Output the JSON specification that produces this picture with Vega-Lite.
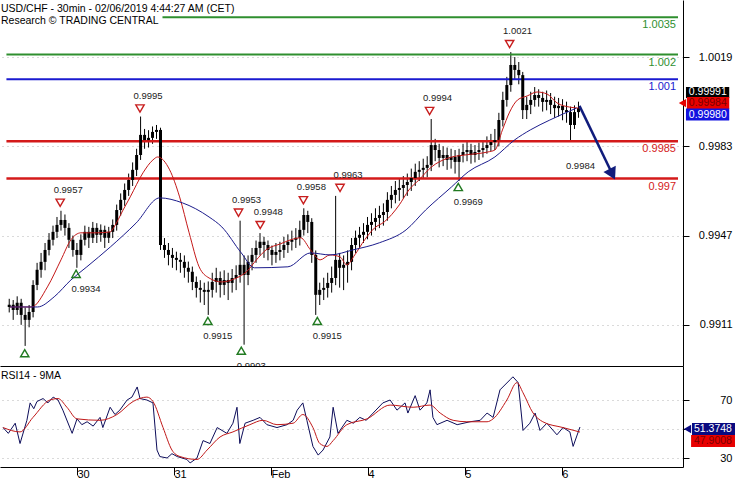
{
  "$schema": "https://vega.github.io/schema/vega-lite/v6.json",
  "padding": 0,
  "spacing": 0,
  "background": "white",
  "config": {
    "view": {"stroke": null},
    "font": "Liberation Sans",
    "axis": {"labelFont": "Liberation Sans", "labelColor": "black", "labelFontSize": 11, "domainColor": "black", "tickColor": "black", "domainWidth": 1, "tickWidth": 1}
  },
  "datasets": {
    "levels": [
      {"kind": "r2", "v": 1.0035, "label": "1.0035"},
      {"kind": "r1", "v": 1.002, "label": "1.002"},
      {"kind": "pivot", "v": 1.001, "label": "1.001"},
      {"kind": "s1", "v": 0.9985, "label": "0.9985"},
      {"kind": "s2", "v": 0.997, "label": "0.997"}
    ],
    "bars": [
      {"t":6,"o":0.99182,"h":0.99215,"l":0.9916,"c":0.99191},
      {"t":7,"o":0.99191,"h":0.9921,"l":0.9913,"c":0.9917},
      {"t":8,"o":0.9917,"h":0.99225,"l":0.9915,"c":0.99199},
      {"t":9,"o":0.99199,"h":0.99215,"l":0.9911,"c":0.9915},
      {"t":10,"o":0.9915,"h":0.9918,"l":0.99025,"c":0.9913},
      {"t":11,"o":0.9913,"h":0.9919,"l":0.991,"c":0.99162},
      {"t":12,"o":0.99162,"h":0.9929,"l":0.9914,"c":0.99271},
      {"t":13,"o":0.99271,"h":0.9936,"l":0.9925,"c":0.99332},
      {"t":14,"o":0.99332,"h":0.994,"l":0.993,"c":0.99364},
      {"t":15,"o":0.99364,"h":0.9944,"l":0.9933,"c":0.99412},
      {"t":16,"o":0.99412,"h":0.9948,"l":0.9939,"c":0.99453},
      {"t":17,"o":0.99453,"h":0.9951,"l":0.9943,"c":0.99485},
      {"t":18,"o":0.99485,"h":0.99545,"l":0.9946,"c":0.99513},
      {"t":19,"o":0.99513,"h":0.9957,"l":0.9949,"c":0.99533},
      {"t":20,"o":0.99533,"h":0.99555,"l":0.9947,"c":0.99501},
      {"t":21,"o":0.99501,"h":0.9952,"l":0.9942,"c":0.99453},
      {"t":22,"o":0.99453,"h":0.9947,"l":0.99385,"c":0.99412},
      {"t":23,"o":0.99412,"h":0.9944,"l":0.9934,"c":0.99392},
      {"t":24,"o":0.99392,"h":0.99475,"l":0.9937,"c":0.99453},
      {"t":25,"o":0.99453,"h":0.9951,"l":0.9943,"c":0.99485},
      {"t":26,"o":0.99485,"h":0.99505,"l":0.9942,"c":0.99461},
      {"t":27,"o":0.99461,"h":0.99525,"l":0.9944,"c":0.99501},
      {"t":28,"o":0.99501,"h":0.9952,"l":0.9944,"c":0.99473},
      {"t":29,"o":0.99473,"h":0.99515,"l":0.99445,"c":0.99493},
      {"t":30,"o":0.99493,"h":0.9951,"l":0.9942,"c":0.99461},
      {"t":31,"o":0.99461,"h":0.99505,"l":0.9944,"c":0.99485},
      {"t":32,"o":0.99485,"h":0.99535,"l":0.9946,"c":0.99513},
      {"t":33,"o":0.99513,"h":0.99595,"l":0.9949,"c":0.99573},
      {"t":34,"o":0.99573,"h":0.9964,"l":0.9955,"c":0.99614},
      {"t":35,"o":0.99614,"h":0.9968,"l":0.9959,"c":0.99654},
      {"t":36,"o":0.99654,"h":0.9972,"l":0.9963,"c":0.99694},
      {"t":37,"o":0.99694,"h":0.99765,"l":0.9967,"c":0.99735},
      {"t":38,"o":0.99735,"h":0.9982,"l":0.9971,"c":0.99795},
      {"t":39,"o":0.99795,"h":0.9995,"l":0.99775,"c":0.99876},
      {"t":40,"o":0.99876,"h":0.999,"l":0.9982,"c":0.99855},
      {"t":41,"o":0.99855,"h":0.99895,"l":0.99825,"c":0.99864},
      {"t":42,"o":0.99864,"h":0.9991,"l":0.9984,"c":0.99888},
      {"t":43,"o":0.99888,"h":0.99916,"l":0.9986,"c":0.99896},
      {"t":44,"o":0.99896,"h":0.99905,"l":0.99412,"c":0.99432},
      {"t":45,"o":0.99432,"h":0.9946,"l":0.9938,"c":0.99412},
      {"t":46,"o":0.99412,"h":0.9944,"l":0.9935,"c":0.99392},
      {"t":47,"o":0.99392,"h":0.9942,"l":0.9934,"c":0.9938},
      {"t":48,"o":0.9938,"h":0.99405,"l":0.9933,"c":0.99372},
      {"t":49,"o":0.99372,"h":0.994,"l":0.9932,"c":0.99364},
      {"t":50,"o":0.99364,"h":0.9939,"l":0.993,"c":0.9934},
      {"t":51,"o":0.9934,"h":0.99365,"l":0.9928,"c":0.99324},
      {"t":52,"o":0.99324,"h":0.99345,"l":0.9925,"c":0.99283},
      {"t":53,"o":0.99283,"h":0.99305,"l":0.9922,"c":0.99259},
      {"t":54,"o":0.99259,"h":0.9929,"l":0.992,"c":0.99251},
      {"t":55,"o":0.99251,"h":0.9928,"l":0.9919,"c":0.99243},
      {"t":56,"o":0.99243,"h":0.99285,"l":0.9915,"c":0.99251},
      {"t":57,"o":0.99251,"h":0.9932,"l":0.9922,"c":0.99283},
      {"t":58,"o":0.99283,"h":0.9934,"l":0.9924,"c":0.99299},
      {"t":59,"o":0.99299,"h":0.99325,"l":0.9922,"c":0.99271},
      {"t":60,"o":0.99271,"h":0.9933,"l":0.9923,"c":0.99291},
      {"t":61,"o":0.99291,"h":0.9932,"l":0.9921,"c":0.99279},
      {"t":62,"o":0.99279,"h":0.99335,"l":0.9924,"c":0.99299},
      {"t":63,"o":0.99299,"h":0.9935,"l":0.9925,"c":0.99311},
      {"t":64,"o":0.99311,"h":0.9953,"l":0.9928,"c":0.99352},
      {"t":65,"o":0.99352,"h":0.9939,"l":0.9903,"c":0.99311},
      {"t":66,"o":0.99311,"h":0.9939,"l":0.9927,"c":0.99364},
      {"t":67,"o":0.99364,"h":0.9942,"l":0.9933,"c":0.99392},
      {"t":68,"o":0.99392,"h":0.9945,"l":0.9936,"c":0.9942},
      {"t":69,"o":0.9942,"h":0.9948,"l":0.9939,"c":0.99445},
      {"t":70,"o":0.99445,"h":0.99465,"l":0.9938,"c":0.99432},
      {"t":71,"o":0.99432,"h":0.9945,"l":0.9937,"c":0.99412},
      {"t":72,"o":0.99412,"h":0.9943,"l":0.9935,"c":0.99392},
      {"t":73,"o":0.99392,"h":0.9944,"l":0.9936,"c":0.99404},
      {"t":74,"o":0.99404,"h":0.99445,"l":0.9937,"c":0.99412},
      {"t":75,"o":0.99412,"h":0.99465,"l":0.9938,"c":0.99432},
      {"t":76,"o":0.99432,"h":0.99475,"l":0.994,"c":0.99445},
      {"t":77,"o":0.99445,"h":0.9949,"l":0.9941,"c":0.99453},
      {"t":78,"o":0.99453,"h":0.995,"l":0.9942,"c":0.99461},
      {"t":79,"o":0.99461,"h":0.9953,"l":0.9943,"c":0.99493},
      {"t":80,"o":0.99493,"h":0.9958,"l":0.9947,"c":0.99553},
      {"t":81,"o":0.99553,"h":0.9957,"l":0.9948,"c":0.99525},
      {"t":82,"o":0.99525,"h":0.9954,"l":0.9936,"c":0.99392},
      {"t":83,"o":0.99392,"h":0.9941,"l":0.9915,"c":0.99231},
      {"t":84,"o":0.99231,"h":0.9928,"l":0.9919,"c":0.99251},
      {"t":85,"o":0.99251,"h":0.993,"l":0.9921,"c":0.99259},
      {"t":86,"o":0.99259,"h":0.9932,"l":0.9922,"c":0.99279},
      {"t":87,"o":0.99279,"h":0.99345,"l":0.9924,"c":0.99299},
      {"t":88,"o":0.99299,"h":0.9963,"l":0.9927,"c":0.99372},
      {"t":89,"o":0.99372,"h":0.994,"l":0.9926,"c":0.9934},
      {"t":90,"o":0.9934,"h":0.9939,"l":0.9925,"c":0.99352},
      {"t":91,"o":0.99352,"h":0.9941,"l":0.9928,"c":0.99364},
      {"t":92,"o":0.99364,"h":0.9946,"l":0.9933,"c":0.99432},
      {"t":93,"o":0.99432,"h":0.9949,"l":0.994,"c":0.99461},
      {"t":94,"o":0.99461,"h":0.99505,"l":0.9942,"c":0.99473},
      {"t":95,"o":0.99473,"h":0.9952,"l":0.9944,"c":0.99485},
      {"t":96,"o":0.99485,"h":0.99545,"l":0.99455,"c":0.99513},
      {"t":97,"o":0.99513,"h":0.9956,"l":0.9947,"c":0.99525},
      {"t":98,"o":0.99525,"h":0.9958,"l":0.9949,"c":0.99541},
      {"t":99,"o":0.99541,"h":0.9959,"l":0.995,"c":0.99553},
      {"t":100,"o":0.99553,"h":0.996,"l":0.9951,"c":0.99565},
      {"t":101,"o":0.99565,"h":0.99645,"l":0.9953,"c":0.99614},
      {"t":102,"o":0.99614,"h":0.9967,"l":0.9958,"c":0.99634},
      {"t":103,"o":0.99634,"h":0.9969,"l":0.996,"c":0.99654},
      {"t":104,"o":0.99654,"h":0.997,"l":0.9961,"c":0.99662},
      {"t":105,"o":0.99662,"h":0.9971,"l":0.9962,"c":0.99674},
      {"t":106,"o":0.99674,"h":0.9972,"l":0.9963,"c":0.99686},
      {"t":107,"o":0.99686,"h":0.9974,"l":0.9965,"c":0.99702},
      {"t":108,"o":0.99702,"h":0.9976,"l":0.9967,"c":0.99727},
      {"t":109,"o":0.99727,"h":0.9977,"l":0.9969,"c":0.99735},
      {"t":110,"o":0.99735,"h":0.9978,"l":0.997,"c":0.99743},
      {"t":111,"o":0.99743,"h":0.9979,"l":0.99705,"c":0.99755},
      {"t":112,"o":0.99755,"h":0.9994,"l":0.9973,"c":0.99835},
      {"t":113,"o":0.99835,"h":0.9986,"l":0.9977,"c":0.99815},
      {"t":114,"o":0.99815,"h":0.9984,"l":0.99745,"c":0.99783},
      {"t":115,"o":0.99783,"h":0.9983,"l":0.9975,"c":0.99795},
      {"t":116,"o":0.99795,"h":0.99825,"l":0.99735,"c":0.99775},
      {"t":117,"o":0.99775,"h":0.9982,"l":0.9974,"c":0.99787},
      {"t":118,"o":0.99787,"h":0.99815,"l":0.9972,"c":0.99767},
      {"t":119,"o":0.99767,"h":0.9982,"l":0.9969,"c":0.99795},
      {"t":120,"o":0.99795,"h":0.9984,"l":0.99765,"c":0.99807},
      {"t":121,"o":0.99807,"h":0.9985,"l":0.9977,"c":0.99815},
      {"t":122,"o":0.99815,"h":0.9984,"l":0.9976,"c":0.99795},
      {"t":123,"o":0.99795,"h":0.99835,"l":0.99765,"c":0.99807},
      {"t":124,"o":0.99807,"h":0.99845,"l":0.99775,"c":0.99815},
      {"t":125,"o":0.99815,"h":0.99855,"l":0.99785,"c":0.99823},
      {"t":126,"o":0.99823,"h":0.9987,"l":0.998,"c":0.99835},
      {"t":127,"o":0.99835,"h":0.9988,"l":0.9981,"c":0.99847},
      {"t":128,"o":0.99847,"h":0.999,"l":0.99815,"c":0.99855},
      {"t":129,"o":0.99855,"h":0.99965,"l":0.9983,"c":0.99936},
      {"t":130,"o":0.99936,"h":1.0005,"l":0.9991,"c":1.00017},
      {"t":131,"o":1.00017,"h":1.0011,"l":0.9999,"c":1.00077},
      {"t":132,"o":1.00077,"h":1.0021,"l":1.0005,"c":1.00158},
      {"t":133,"o":1.00158,"h":1.0019,"l":1.001,"c":1.00138},
      {"t":134,"o":1.00138,"h":1.0017,"l":1.0008,"c":1.00117},
      {"t":135,"o":1.00117,"h":1.0013,"l":0.9994,"c":0.99976},
      {"t":136,"o":0.99976,"h":1.0003,"l":0.9994,"c":0.99997},
      {"t":137,"o":0.99997,"h":1.0005,"l":0.9996,"c":1.00017},
      {"t":138,"o":1.00017,"h":1.00069,"l":0.9999,"c":1.00037},
      {"t":139,"o":1.00037,"h":1.0006,"l":0.9999,"c":1.00025},
      {"t":140,"o":1.00025,"h":1.0005,"l":0.9997,"c":1.00009},
      {"t":141,"o":1.00009,"h":1.00055,"l":0.99975,"c":1.00017},
      {"t":142,"o":1.00017,"h":1.00045,"l":0.9996,"c":0.99997},
      {"t":143,"o":0.99997,"h":1.0003,"l":0.99945,"c":0.99984},
      {"t":144,"o":0.99984,"h":1.00025,"l":0.9995,"c":0.99993},
      {"t":145,"o":0.99993,"h":1.0002,"l":0.99935,"c":0.99976},
      {"t":146,"o":0.99976,"h":1.0001,"l":0.99925,"c":0.99968},
      {"t":147,"o":0.99968,"h":0.9999,"l":0.99855,"c":0.99916},
      {"t":148,"o":0.99916,"h":0.99995,"l":0.999,"c":0.99968},
      {"t":149,"o":0.99968,"h":1.0001,"l":0.99945,"c":0.99984}
    ],
    "ma": [
      {"s":"fast","t":6.2,"v":0.99182},{"s":"fast","t":11.6,"v":0.99182},{"s":"fast","t":15.6,"v":0.99263},{"s":"fast","t":19.0,"v":0.99372},{"s":"fast","t":21.5,"v":0.99453},{"s":"fast","t":24,"v":0.99481},{"s":"fast","t":28,"v":0.99481},{"s":"fast","t":31.4,"v":0.99485},{"s":"fast","t":32.2,"v":0.99501},{"s":"fast","t":34.6,"v":0.99573},{"s":"fast","t":36.4,"v":0.99626},{"s":"fast","t":39.6,"v":0.99723},{"s":"fast","t":42.1,"v":0.99775},{"s":"fast","t":43.3,"v":0.99787},{"s":"fast","t":46.3,"v":0.99735},{"s":"fast","t":48.8,"v":0.99626},{"s":"fast","t":51.2,"v":0.99481},{"s":"fast","t":53.7,"v":0.99344},{"s":"fast","t":56.2,"v":0.99299},{"s":"fast","t":59.4,"v":0.99283},{"s":"fast","t":63.1,"v":0.99299},{"s":"fast","t":65.6,"v":0.99324},{"s":"fast","t":68.1,"v":0.99372},{"s":"fast","t":70.5,"v":0.99412},{"s":"fast","t":74.2,"v":0.99437},{"s":"fast","t":76.7,"v":0.99453},{"s":"fast","t":79.2,"v":0.99461},{"s":"fast","t":81.7,"v":0.99412},{"s":"fast","t":84.1,"v":0.99372},{"s":"fast","t":86.6,"v":0.99392},{"s":"fast","t":89.1,"v":0.99384},{"s":"fast","t":90.8,"v":0.99352},{"s":"fast","t":92.8,"v":0.99392},{"s":"fast","t":95.3,"v":0.99453},{"s":"fast","t":97.8,"v":0.99501},{"s":"fast","t":100.2,"v":0.99525},{"s":"fast","t":104,"v":0.99594},{"s":"fast","t":106.4,"v":0.99654},{"s":"fast","t":108.9,"v":0.99694},{"s":"fast","t":112.1,"v":0.99747},{"s":"fast","t":116.3,"v":0.99783},{"s":"fast","t":120.5,"v":0.99795},{"s":"fast","t":126.2,"v":0.99807},{"s":"fast","t":128,"v":0.99815},{"s":"fast","t":129.9,"v":0.99896},{"s":"fast","t":131.7,"v":0.99968},{"s":"fast","t":133.7,"v":1.00017},{"s":"fast","t":136.1,"v":1.00033},{"s":"fast","t":138.6,"v":1.00049},{"s":"fast","t":141.1,"v":1.00041},{"s":"fast","t":143.6,"v":1.00005},{"s":"fast","t":146.8,"v":0.99988},{"s":"fast","t":149,"v":0.99984},
      {"s":"slow","t":6.2,"v":0.99182},{"s":"slow","t":13.1,"v":0.99182},{"s":"slow","t":17.3,"v":0.99223},{"s":"slow","t":21.5,"v":0.99291},{"s":"slow","t":25.5,"v":0.99344},{"s":"slow","t":31.4,"v":0.99424},{"s":"slow","t":37.9,"v":0.99521},{"s":"slow","t":43.8,"v":0.99622},{"s":"slow","t":49.5,"v":0.99602},{"s":"slow","t":56.2,"v":0.99545},{"s":"slow","t":59.4,"v":0.99505},{"s":"slow","t":64.3,"v":0.994},{"s":"slow","t":67.6,"v":0.9934},{"s":"slow","t":76,"v":0.99344},{"s":"slow","t":81.7,"v":0.994},{"s":"slow","t":86.6,"v":0.99392},{"s":"slow","t":92.3,"v":0.99412},{"s":"slow","t":99,"v":0.99441},{"s":"slow","t":105.7,"v":0.99493},{"s":"slow","t":110.6,"v":0.99573},{"s":"slow","t":117.1,"v":0.99666},{"s":"slow","t":121.3,"v":0.99727},{"s":"slow","t":128,"v":0.99787},{"s":"slow","t":132.9,"v":0.99855},{"s":"slow","t":136.9,"v":0.99896},{"s":"slow","t":141.8,"v":0.99936},{"s":"slow","t":148.5,"v":0.99984}
    ],
    "marks": [
      {"type":"high","t":18.8,"v":0.9957,"label":"0.9957"},
      {"type":"high","t":38.85,"v":0.9995,"label":"0.9995"},
      {"type":"high","t":63.6,"v":0.9953,"label":"0.9953"},
      {"type":"high","t":69.05,"v":0.9948,"label":"0.9948"},
      {"type":"high","t":79.9,"v":0.9958,"label":"0.9958"},
      {"type":"high","t":89.1,"v":0.9963,"label":"0.9963"},
      {"type":"high","t":111.6,"v":0.9994,"label":"0.9994"},
      {"type":"high","t":131.7,"v":1.0021,"label":"1.0021"},
      {"type":"low","t":9.9,"v":0.9902,"label":""},
      {"type":"low","t":22.8,"v":0.9934,"label":"0.9934"},
      {"type":"low","t":55.9,"v":0.9915,"label":"0.9915"},
      {"type":"low","t":64.3,"v":0.9903,"label":"0.9903"},
      {"type":"low","t":83.4,"v":0.9915,"label":"0.9915"},
      {"type":"low","t":118.8,"v":0.9969,"label":"0.9969"}
    ],
    "annot": [{"t":149.5,"v":0.99751,"label":"0.9984"}],
    "arrow": [{"t":149.25,"v":0.99993},{"t":157.5,"v":0.99718}],
    "pbox": [
      {"kind":"bid","v":0.99991,"label":"0.99991"},
      {"kind":"last","v":0.99984,"label":"0.99984"},
      {"kind":"ma","v":0.9998,"label":"0.99980"}
    ],
    "rsi": [
      {"s":"rsi","t":5.7,"v":51},{"s":"rsi","t":7,"v":47},{"s":"rsi","t":8.7,"v":54},{"s":"rsi","t":9.9,"v":40},{"s":"rsi","t":11.6,"v":56},{"s":"rsi","t":12.4,"v":68},{"s":"rsi","t":13.3,"v":64},{"s":"rsi","t":14.1,"v":69},{"s":"rsi","t":15.6,"v":71},{"s":"rsi","t":16.8,"v":68},{"s":"rsi","t":18.1,"v":72},{"s":"rsi","t":19.3,"v":70},{"s":"rsi","t":20.5,"v":63},{"s":"rsi","t":22.8,"v":47},{"s":"rsi","t":24,"v":57},{"s":"rsi","t":25.2,"v":53},{"s":"rsi","t":26.5,"v":55},{"s":"rsi","t":28,"v":52},{"s":"rsi","t":29.7,"v":58},{"s":"rsi","t":30.4,"v":51},{"s":"rsi","t":32.2,"v":65},{"s":"rsi","t":33.4,"v":60},{"s":"rsi","t":34.6,"v":63},{"s":"rsi","t":36.4,"v":70},{"s":"rsi","t":37.6,"v":72},{"s":"rsi","t":38.9,"v":79},{"s":"rsi","t":39.6,"v":71},{"s":"rsi","t":41.3,"v":70},{"s":"rsi","t":42.8,"v":68},{"s":"rsi","t":43.8,"v":35.5},{"s":"rsi","t":44.5,"v":31},{"s":"rsi","t":46.3,"v":30},{"s":"rsi","t":47.5,"v":33},{"s":"rsi","t":48.8,"v":31},{"s":"rsi","t":51.2,"v":29},{"s":"rsi","t":52,"v":26.6},{"s":"rsi","t":53.7,"v":30},{"s":"rsi","t":55.2,"v":42},{"s":"rsi","t":56.9,"v":40},{"s":"rsi","t":58.7,"v":51},{"s":"rsi","t":61.1,"v":47},{"s":"rsi","t":62.6,"v":54},{"s":"rsi","t":63.6,"v":65},{"s":"rsi","t":64.3,"v":40},{"s":"rsi","t":65.6,"v":54},{"s":"rsi","t":67.6,"v":56},{"s":"rsi","t":69.3,"v":58},{"s":"rsi","t":71,"v":53},{"s":"rsi","t":73.5,"v":51},{"s":"rsi","t":76,"v":53},{"s":"rsi","t":77.5,"v":56},{"s":"rsi","t":78.5,"v":63},{"s":"rsi","t":79.9,"v":68},{"s":"rsi","t":80.9,"v":56},{"s":"rsi","t":82.4,"v":38},{"s":"rsi","t":83.7,"v":32},{"s":"rsi","t":84.9,"v":35.5},{"s":"rsi","t":86.6,"v":44.5},{"s":"rsi","t":87.4,"v":65},{"s":"rsi","t":88.6,"v":47},{"s":"rsi","t":90.8,"v":56},{"s":"rsi","t":92.4,"v":54},{"s":"rsi","t":94,"v":58},{"s":"rsi","t":95.6,"v":56},{"s":"rsi","t":97.3,"v":61},{"s":"rsi","t":99.7,"v":68},{"s":"rsi","t":101.5,"v":70},{"s":"rsi","t":103.2,"v":63},{"s":"rsi","t":105.2,"v":68},{"s":"rsi","t":105.9,"v":61},{"s":"rsi","t":107.7,"v":73},{"s":"rsi","t":108.9,"v":63},{"s":"rsi","t":110.6,"v":68},{"s":"rsi","t":111.4,"v":77},{"s":"rsi","t":112.1,"v":58},{"s":"rsi","t":113.1,"v":53},{"s":"rsi","t":115.6,"v":56},{"s":"rsi","t":118.1,"v":53},{"s":"rsi","t":121.3,"v":55},{"s":"rsi","t":123.8,"v":56},{"s":"rsi","t":125.5,"v":61},{"s":"rsi","t":127,"v":58},{"s":"rsi","t":128.7,"v":77},{"s":"rsi","t":131.2,"v":84},{"s":"rsi","t":131.9,"v":86},{"s":"rsi","t":133.2,"v":82},{"s":"rsi","t":134.4,"v":49},{"s":"rsi","t":136.1,"v":54},{"s":"rsi","t":137.4,"v":61},{"s":"rsi","t":138.6,"v":49},{"s":"rsi","t":140.3,"v":54},{"s":"rsi","t":142.8,"v":46},{"s":"rsi","t":144.3,"v":51},{"s":"rsi","t":146,"v":48},{"s":"rsi","t":146.8,"v":38},{"s":"rsi","t":148.5,"v":51.3748},
      {"s":"ma","t":5.7,"v":51},{"s":"ma","t":9.9,"v":48},{"s":"ma","t":13.1,"v":58},{"s":"ma","t":17.3,"v":70},{"s":"ma","t":19.3,"v":71},{"s":"ma","t":21.5,"v":65},{"s":"ma","t":24,"v":57},{"s":"ma","t":29.7,"v":56},{"s":"ma","t":33.9,"v":60},{"s":"ma","t":37.9,"v":69},{"s":"ma","t":41.3,"v":72},{"s":"ma","t":42.8,"v":69},{"s":"ma","t":45.3,"v":51},{"s":"ma","t":47.5,"v":35.5},{"s":"ma","t":49.5,"v":31},{"s":"ma","t":53.7,"v":29},{"s":"ma","t":56.2,"v":35.5},{"s":"ma","t":59.4,"v":44.5},{"s":"ma","t":62.6,"v":48},{"s":"ma","t":66.8,"v":53},{"s":"ma","t":70,"v":56},{"s":"ma","t":73.5,"v":53},{"s":"ma","t":77.5,"v":54},{"s":"ma","t":79.9,"v":60},{"s":"ma","t":82.4,"v":51},{"s":"ma","t":84.1,"v":40},{"s":"ma","t":85.9,"v":38},{"s":"ma","t":87.4,"v":42},{"s":"ma","t":90.8,"v":53},{"s":"ma","t":95.8,"v":57},{"s":"ma","t":101.5,"v":66.5},{"s":"ma","t":107.2,"v":65},{"s":"ma","t":111.4,"v":66.5},{"s":"ma","t":113.9,"v":61},{"s":"ma","t":117.1,"v":56},{"s":"ma","t":120.5,"v":55},{"s":"ma","t":125.5,"v":55},{"s":"ma","t":127,"v":57},{"s":"ma","t":130.4,"v":70},{"s":"ma","t":132.9,"v":82},{"s":"ma","t":134.4,"v":75},{"s":"ma","t":136.9,"v":61},{"s":"ma","t":139.3,"v":55},{"s":"ma","t":144.3,"v":51},{"s":"ma","t":148.5,"v":47.9008}
    ],
    "rbox": [
      {"kind":"rsi","v":51.3748,"label":"51.3748"},
      {"kind":"ma","v":47.9008,"label":"47.9008"}
    ]
  },
  "vconcat": [
    {
      "width": 683,
      "height": 366,
      "title": {"text": "USD/CHF - 30min - 02/06/2019 4:44:27 AM (CET)", "subtitle": "Research © TRADING CENTRAL", "anchor": "start", "frame": "group", "orient": "top", "offset": -26, "dx": 1, "font": "Liberation Sans", "fontSize": 10.5, "fontWeight": "normal", "color": "black", "subtitleFont": "Liberation Sans", "subtitleFontSize": 10.5, "subtitleColor": "black", "subtitlePadding": 1},
      "layer": [
        {
          "data": {"name": "bars"},
          "mark": {"type": "rule", "color": "black", "strokeWidth": 1},
          "encoding": {
            "x": {"field": "t", "type": "quantitative", "scale": {"domain": [4.94, 174], "nice": false, "zero": false}, "axis": {"labels": false, "ticks": false, "grid": false, "domain": true, "title": null}},
            "y": {"field": "l", "type": "quantitative", "scale": {"domain": [0.98944, 1.0042], "nice": false, "zero": false}, "axis": {"orient": "right", "values": [0.9911, 0.9947, 0.9983, 1.0019], "format": ".4f", "title": null, "grid": true, "gridDash": [1, 4], "gridColor": "#b4b4b4", "tickSize": 6, "labelAlign": "right", "labelPadding": 43}},
            "y2": {"field": "h"}
          }
        },
        {
          "data": {"name": "levels"},
          "transform": [{"filter": "datum.kind != 'r2'"}],
          "mark": {"type": "rule"},
          "encoding": {
            "x": {"datum": 5.3, "type": "quantitative"},
            "x2": {"datum": 174},
            "y": {"field": "v", "type": "quantitative"},
            "color": {"field": "kind", "type": "nominal", "scale": {"domain": ["r2", "r1", "pivot", "s1", "s2"], "range": ["#2f8f2f", "#2f8f2f", "#1a1ad0", "#d41a1a", "#d41a1a"]}, "legend": null},
            "strokeWidth": {"condition": {"test": "datum.kind == 's1' || datum.kind == 's2'", "value": 2.5}, "value": 2}
          }
        },
        {
          "data": {"name": "levels"},
          "transform": [{"filter": "datum.kind == 'r2'"}],
          "mark": {"type": "rule", "strokeWidth": 2},
          "encoding": {
            "x": {"datum": 44.5, "type": "quantitative"},
            "x2": {"datum": 174},
            "y": {"field": "v", "type": "quantitative"},
            "color": {"field": "kind", "type": "nominal", "legend": null}
          }
        },
        {
          "data": {"name": "levels"},
          "mark": {"type": "text", "align": "right", "baseline": "middle", "dx": -2, "dy": 8, "fontSize": 11, "font": "Liberation Sans"},
          "encoding": {
            "x": {"datum": 174, "type": "quantitative"},
            "y": {"field": "v", "type": "quantitative"},
            "text": {"field": "label"},
            "color": {"field": "kind", "type": "nominal", "legend": null}
          }
        },
        {
          "data": {"name": "bars"},
          "mark": {"type": "bar", "width": 3, "color": "black"},
          "encoding": {
            "x": {"field": "t", "type": "quantitative"},
            "y": {"field": "o", "type": "quantitative"},
            "y2": {"field": "c"}
          }
        },
        {
          "data": {"name": "ma"},
          "transform": [{"filter": "datum.s == 'fast'"}],
          "mark": {"type": "line", "color": "#c41818", "strokeWidth": 1, "interpolate": "monotone"},
          "encoding": {"x": {"field": "t", "type": "quantitative"}, "y": {"field": "v", "type": "quantitative"}}
        },
        {
          "data": {"name": "ma"},
          "transform": [{"filter": "datum.s == 'slow'"}],
          "mark": {"type": "line", "color": "#1c1c8c", "strokeWidth": 1, "interpolate": "monotone"},
          "encoding": {"x": {"field": "t", "type": "quantitative"}, "y": {"field": "v", "type": "quantitative"}}
        },
        {
          "data": {"name": "marks"},
          "transform": [{"filter": "datum.type == 'high'"}],
          "mark": {"type": "point", "shape": "triangle-down", "filled": false, "color": "#c81e1e", "strokeWidth": 1.4, "size": 70, "yOffset": -8, "opacity": 1},
          "encoding": {"x": {"field": "t", "type": "quantitative"}, "y": {"field": "v", "type": "quantitative"}}
        },
        {
          "data": {"name": "marks"},
          "transform": [{"filter": "datum.type == 'low'"}],
          "mark": {"type": "point", "shape": "triangle-up", "filled": false, "color": "#217a21", "strokeWidth": 1.4, "size": 70, "yOffset": 6, "opacity": 1},
          "encoding": {"x": {"field": "t", "type": "quantitative"}, "y": {"field": "v", "type": "quantitative"}}
        },
        {
          "data": {"name": "marks"},
          "transform": [{"filter": "datum.type == 'high'"}],
          "mark": {"type": "text", "align": "center", "baseline": "middle", "dx": 8, "dy": -21, "fontSize": 9.5, "color": "#222222", "clip": true},
          "encoding": {"x": {"field": "t", "type": "quantitative"}, "y": {"field": "v", "type": "quantitative"}, "text": {"field": "label"}}
        },
        {
          "data": {"name": "marks"},
          "transform": [{"filter": "datum.type == 'low' && datum.label != ''"}],
          "mark": {"type": "text", "align": "center", "baseline": "middle", "dx": 10, "dy": 21, "fontSize": 9.5, "color": "#222222", "clip": true},
          "encoding": {"x": {"field": "t", "type": "quantitative"}, "y": {"field": "v", "type": "quantitative"}, "text": {"field": "label"}}
        },
        {
          "data": {"name": "annot"},
          "mark": {"type": "text", "align": "center", "baseline": "middle", "fontSize": 9.5, "color": "#222222"},
          "encoding": {"x": {"field": "t", "type": "quantitative"}, "y": {"field": "v", "type": "quantitative"}, "text": {"field": "label"}}
        },
        {
          "data": {"name": "arrow"},
          "mark": {"type": "line", "color": "#101c7c", "strokeWidth": 2.5},
          "encoding": {"x": {"field": "t", "type": "quantitative"}, "y": {"field": "v", "type": "quantitative"}}
        },
        {
          "data": {"name": "arrow"},
          "transform": [{"filter": "datum.t > 150"}],
          "mark": {"type": "point", "shape": "triangle-down", "filled": true, "color": "#101c7c", "size": 190, "angle": 333, "opacity": 1},
          "encoding": {"x": {"field": "t", "type": "quantitative"}, "y": {"field": "v", "type": "quantitative"}}
        },
        {
          "data": {"name": "pbox"},
          "transform": [{"filter": "datum.kind == 'bid'"}],
          "mark": {"type": "rect", "height": 11, "yOffset": -14, "color": "black"},
          "encoding": {"x": {"datum": 176.0, "type": "quantitative"}, "x2": {"datum": 186.87}, "y": {"field": "v", "type": "quantitative"}}
        },
        {
          "data": {"name": "pbox"},
          "transform": [{"filter": "datum.kind == 'last'"}],
          "mark": {"type": "rect", "height": 12, "yOffset": -5, "color": "#e80000"},
          "encoding": {"x": {"datum": 176.23, "type": "quantitative"}, "x2": {"datum": 186.87}, "y": {"field": "v", "type": "quantitative"}}
        },
        {
          "data": {"name": "pbox"},
          "transform": [{"filter": "datum.kind == 'last'"}],
          "mark": {"type": "point", "shape": "triangle-left", "filled": true, "color": "#e80000", "size": 70, "yOffset": -5, "opacity": 1},
          "encoding": {"x": {"datum": 175.11, "type": "quantitative"}, "y": {"field": "v", "type": "quantitative"}}
        },
        {
          "data": {"name": "pbox"},
          "transform": [{"filter": "datum.kind == 'ma'"}],
          "mark": {"type": "rect", "height": 12, "yOffset": 5.5, "color": "#1212e0"},
          "encoding": {"x": {"datum": 176.0, "type": "quantitative"}, "x2": {"datum": 186.87}, "y": {"field": "v", "type": "quantitative"}}
        },
        {
          "data": {"name": "pbox"},
          "transform": [{"filter": "datum.kind == 'bid'"}],
          "mark": {"type": "text", "align": "left", "baseline": "middle", "dy": -14, "fontSize": 10.5, "color": "white"},
          "encoding": {"x": {"datum": 176.72, "type": "quantitative"}, "y": {"field": "v", "type": "quantitative"}, "text": {"field": "label"}}
        },
        {
          "data": {"name": "pbox"},
          "transform": [{"filter": "datum.kind == 'last'"}],
          "mark": {"type": "text", "align": "left", "baseline": "middle", "dy": -5, "fontSize": 10.5, "color": "#7a0000"},
          "encoding": {"x": {"datum": 176.72, "type": "quantitative"}, "y": {"field": "v", "type": "quantitative"}, "text": {"field": "label"}}
        },
        {
          "data": {"name": "pbox"},
          "transform": [{"filter": "datum.kind == 'ma'"}],
          "mark": {"type": "text", "align": "left", "baseline": "middle", "dy": 5.5, "fontSize": 10.5, "color": "white"},
          "encoding": {"x": {"datum": 176.72, "type": "quantitative"}, "y": {"field": "v", "type": "quantitative"}, "text": {"field": "label"}}
        }
      ]
    },
    {
      "width": 683,
      "height": 101,
      "title": {"text": "RSI14 - 9MA", "anchor": "start", "frame": "group", "orient": "top", "offset": -15, "dx": 1, "font": "Liberation Sans", "fontSize": 10.5, "fontWeight": "normal", "color": "black"},
      "layer": [
        {
          "data": {"name": "rsi"},
          "transform": [{"filter": "datum.s == 'rsi'"}],
          "mark": {"type": "line", "color": "#0d0d5a", "strokeWidth": 1},
          "encoding": {
            "x": {"field": "t", "type": "quantitative", "scale": {"domain": [4.94, 174], "nice": false, "zero": false}, "axis": {"values": [24, 48, 72, 96, 120, 144], "labelExpr": "datum.value == 24 ? '30' : datum.value == 48 ? '31' : datum.value == 72 ? 'Feb' : datum.value == 96 ? '4' : datum.value == 120 ? '5' : '6'", "grid": false, "tickSize": 8, "labelAlign": "left", "labelBaseline": "top", "labelPadding": -7, "labelDx": 2, "title": null}},
            "y": {"field": "v", "type": "quantitative", "scale": {"domain": [23.8, 93.45], "nice": false, "zero": false}, "axis": {"orient": "right", "values": [30, 50, 70], "labelExpr": "datum.value == 50 ? '' : datum.label", "title": null, "grid": true, "gridDash": [1, 4], "gridColor": "#b4b4b4", "tickSize": 6, "labelAlign": "right", "labelPadding": 43}}
          }
        },
        {
          "data": {"name": "rsi"},
          "transform": [{"filter": "datum.s == 'ma'"}],
          "mark": {"type": "line", "color": "#c01818", "strokeWidth": 1, "interpolate": "monotone"},
          "encoding": {"x": {"field": "t", "type": "quantitative"}, "y": {"field": "v", "type": "quantitative"}}
        },
        {
          "data": {"name": "rbox"},
          "transform": [{"filter": "datum.kind == 'rsi'"}],
          "mark": {"type": "rect", "height": 12, "yOffset": 2, "color": "#0a0a80"},
          "encoding": {"x": {"datum": 176.23, "type": "quantitative"}, "x2": {"datum": 186.87}, "y": {"field": "v", "type": "quantitative"}}
        },
        {
          "data": {"name": "rbox"},
          "transform": [{"filter": "datum.kind == 'rsi'"}],
          "mark": {"type": "point", "shape": "triangle-left", "filled": true, "color": "#0a0a80", "size": 70, "yOffset": 2, "opacity": 1},
          "encoding": {"x": {"datum": 175.11, "type": "quantitative"}, "y": {"field": "v", "type": "quantitative"}}
        },
        {
          "data": {"name": "rbox"},
          "transform": [{"filter": "datum.kind == 'ma'"}],
          "mark": {"type": "rect", "height": 12, "yOffset": 9, "color": "#e80000"},
          "encoding": {"x": {"datum": 176.0, "type": "quantitative"}, "x2": {"datum": 186.87}, "y": {"field": "v", "type": "quantitative"}}
        },
        {
          "data": {"name": "rbox"},
          "transform": [{"filter": "datum.kind == 'rsi'"}],
          "mark": {"type": "text", "align": "left", "baseline": "middle", "dy": 2, "fontSize": 10.5, "color": "white"},
          "encoding": {"x": {"datum": 176.72, "type": "quantitative"}, "y": {"field": "v", "type": "quantitative"}, "text": {"field": "label"}}
        },
        {
          "data": {"name": "rbox"},
          "transform": [{"filter": "datum.kind == 'ma'"}],
          "mark": {"type": "text", "align": "left", "baseline": "middle", "dy": 9, "fontSize": 10.5, "color": "#7a0000"},
          "encoding": {"x": {"datum": 176.72, "type": "quantitative"}, "y": {"field": "v", "type": "quantitative"}, "text": {"field": "label"}}
        }
      ]
    }
  ]
}
